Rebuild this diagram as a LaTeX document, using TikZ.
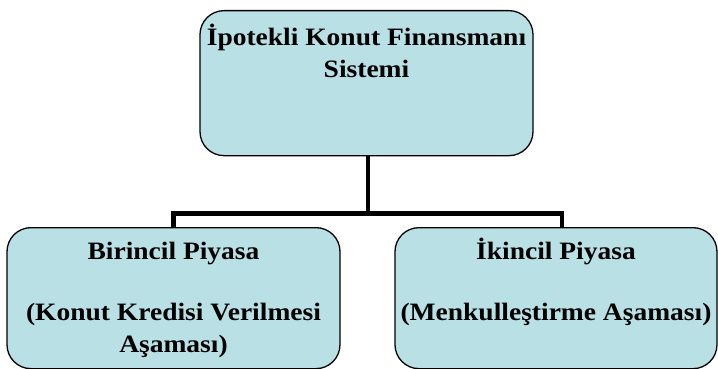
\documentclass[tikz,border=0pt]{standalone}
\usepackage{fontspec}
\setmainfont{Liberation Serif}[BoldFont={Liberation Serif Bold}, FakeStretch=1.1]
\usepackage{tikz}

\definecolor{kutumavi}{HTML}{B9E0E5}
\tikzset{
  kutu/.style={draw=black, fill=kutumavi, line width=1.3pt, rounded corners=24pt,
    anchor=north, inner xsep=0pt, font=\bfseries\fontsize{25}{32}\selectfont},
  baglanti/.style={draw=black, line width=4.5pt}
}

\begin{document}
\begin{tikzpicture}[x=1pt,y=-1pt]
    \useasboundingbox (0,0) rectangle (718,369);
    \node[kutu, inner ysep=12.6pt] (ust) at (366.5,10)
      {\parbox[t][119.8pt][t]{333pt}{\centering\strut İpotekli Konut Finansmanı\\ Sistemi}};
    \node[kutu, inner ysep=9.6pt] (sol) at (173.5,227)
      {\parbox[t][121.8pt][t]{333pt}{\centering\strut Birincil Piyasa\\[29pt] (Konut Kredisi Verilmesi\\ Aşaması)}};
    \node[kutu, inner ysep=9.6pt] (sag) at (556,227)
      {\parbox[t][121.8pt][t]{322pt}{\centering\strut İkincil Piyasa\\[29pt] (Menkulleştirme Aşaması)}};
    \path (ust.south) ++(1.5,57) coordinate (kavsak);
    \draw[baglanti] ([xshift=1.5pt]ust.south) -- (kavsak);
    \draw[baglanti] (sol.north) |- (kavsak) -| ([xshift=6pt]sag.north);
\end{tikzpicture}
\end{document}
